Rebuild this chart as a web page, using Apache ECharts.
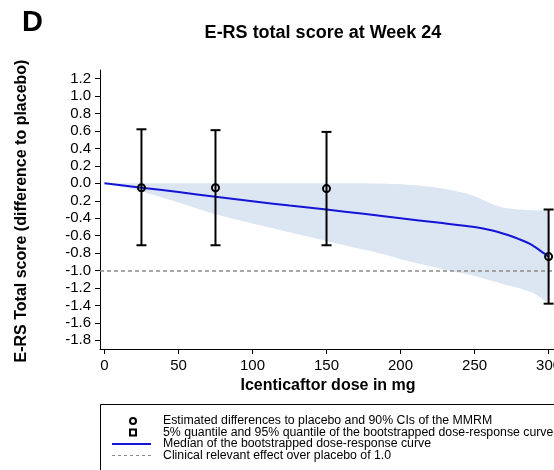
<!DOCTYPE html>
<html>
<head>
<meta charset="utf-8">
<script src="https://cdn.jsdelivr.net/npm/echarts@6/dist/echarts.min.js"></script>
<style>
  html, body { margin: 0; padding: 0; background: #fff; }
  #chart { width: 554px; height: 470px; }
</style>
</head>
<body>
<div id="chart"></div>
<script>
// MMRM estimates (difference to placebo) with 90% CIs
var doses = [25, 75, 150, 300];
var estimates = [-0.05, -0.05, -0.06, -0.84];
var ciLower = [-0.71, -0.71, -0.71, -1.38];
var ciUpper = [0.62, 0.61, 0.59, -0.30];

// Bootstrapped dose-response curve: median and 5%/95% quantiles
var curveDose = [0, 25, 50, 75, 100, 125, 150, 175, 200, 225, 250, 262, 272, 280, 288, 295, 300];
var curveMedian = [0, -0.05, -0.10, -0.155, -0.205, -0.255, -0.30, -0.35, -0.40, -0.45, -0.50, -0.54, -0.59, -0.64, -0.70, -0.78, -0.84];

var bandDose = [0, 25, 50, 75, 100, 125, 150, 175, 190, 200, 215, 225, 235, 245, 252, 258, 264, 270, 280, 290, 300];
var bandUpper = [0, 0, 0, 0, 0, 0, 0, 0, -0.005, -0.01, -0.03, -0.05, -0.08, -0.12, -0.16, -0.21, -0.25, -0.28, -0.30, -0.31, -0.32];
var bandLower = [0, -0.09, -0.22, -0.355, -0.46, -0.56, -0.66, -0.76, -0.82, -0.87, -0.93, -0.97, -1.01, -1.04, -1.07, -1.10, -1.13, -1.16, -1.20, -1.26, -1.36];

var clinicalThreshold = -1.0;

// Axis ticks
var xTickValues = [0, 50, 100, 150, 200, 250, 300];
var yTickValues = [1.2, 1.0, 0.8, 0.6, 0.4, 0.2, 0.0, -0.2, -0.4, -0.6, -0.8, -1.0, -1.2, -1.4, -1.6, -1.8];
var yTickLabels = ['1.2', '1.0', '0.8', '0.6', '0.4', '0.2', '0.0', '0.2', '-0.4', '-0.6', '-0.8', '-1.0', '-1.2', '-1.4', '-1.6', '-1.8'];

var legendLabels = [
  'Estimated differences to placebo and 90% CIs of the MMRM',
  '5% quantile and 95% quantile of the bootstrapped dose-response curve',
  'Median of the bootstrapped dose-response curve',
  'Clinical relevant effect over placebo of 1.0'
];

var FONT = '"Liberation Sans", Arial, Helvetica, sans-serif';
var LINE_BLUE = '#1414d6';
var BAND_BLUE = '#dce5f2';

var chart = echarts.init(document.getElementById('chart'), null, { renderer: 'canvas' });

function yLabel(v) {
  for (var i = 0; i < yTickValues.length; i++) {
    if (Math.abs(yTickValues[i] - v) < 1e-6) return yTickLabels[i];
  }
  return '';
}

var legendTop = 404.5;
var legendRows = [421, 432.5, 444, 455.5];
var legendFont = 12.3;

var option = {
  backgroundColor: '#fff',
  animation: false,
  grid: { left: 100, top: 70, width: 456, height: 279, containLabel: false, outerBoundsMode: 'none' },
  xAxis: {
    type: 'value',
    min: -3,
    max: 305,
    name: 'Icenticaftor dose in mg',
    nameLocation: 'middle',
    nameGap: 26,
    nameTextStyle: { fontFamily: FONT, fontWeight: 'bold', fontSize: 16, color: '#000' },
    axisLine: { show: true, onZero: false, lineStyle: { color: '#000', width: 1 } },
    axisTick: { show: true, length: 5, customValues: xTickValues, lineStyle: { color: '#000' } },
    axisLabel: { customValues: xTickValues, margin: 9, fontFamily: FONT, fontSize: 15, color: '#000', hideOverlap: false },
    splitLine: { show: false }
  },
  yAxis: {
    type: 'value',
    min: -1.9,
    max: 1.3,
    axisLine: { show: true, onZero: false, lineStyle: { color: '#000', width: 1 } },
    axisTick: { show: true, length: 5, customValues: yTickValues, lineStyle: { color: '#000' } },
    axisLabel: {
      customValues: yTickValues, margin: 9, fontFamily: FONT, fontSize: 15, color: '#000',
      formatter: yLabel
    },
    splitLine: { show: false }
  },
  graphic: [
    { type: 'text', left: 22, top: 8, style: { text: 'D', fontFamily: FONT, fontWeight: 'bold', fontSize: 29, fill: '#000' } },
    { type: 'text', x: 323, y: 33, style: { text: 'E-RS total score at Week 24', fontFamily: FONT, fontWeight: 'bold', fontSize: 18, fill: '#000', textAlign: 'center', textVerticalAlign: 'middle' } },
    { type: 'text', x: 22, y: 211, rotation: Math.PI / 2, style: { text: 'E-RS Total score (difference to placebo)', fontFamily: FONT, fontWeight: 'bold', fontSize: 16, fill: '#000', textAlign: 'center', textVerticalAlign: 'middle' } },
    // legend box
    { type: 'rect', shape: { x: 100.5, y: legendTop, width: 500, height: 100 }, style: { fill: 'none', stroke: '#000', lineWidth: 1 } },
    { type: 'circle', shape: { cx: 133, cy: legendRows[0], r: 3 }, style: { fill: 'none', stroke: '#000', lineWidth: 2 } },
    { type: 'rect', shape: { x: 130, y: legendRows[1] - 3, width: 6, height: 6 }, style: { fill: 'none', stroke: '#000', lineWidth: 2 } },
    { type: 'line', shape: { x1: 112, y1: legendRows[2], x2: 151, y2: legendRows[2] }, style: { stroke: LINE_BLUE, lineWidth: 2 } },
    { type: 'line', shape: { x1: 112, y1: legendRows[3], x2: 151, y2: legendRows[3] }, style: { stroke: '#8a8a8a', lineWidth: 1, lineDash: [3, 3] } },
    { type: 'text', x: 163, y: legendRows[0], style: { text: legendLabels[0], fontFamily: FONT, fontSize: legendFont, fill: '#000', textVerticalAlign: 'middle' } },
    { type: 'text', x: 163, y: legendRows[1], style: { text: legendLabels[1], fontFamily: FONT, fontSize: legendFont, fill: '#000', textVerticalAlign: 'middle' } },
    { type: 'text', x: 163, y: legendRows[2], style: { text: legendLabels[2], fontFamily: FONT, fontSize: legendFont, fill: '#000', textVerticalAlign: 'middle' } },
    { type: 'text', x: 163, y: legendRows[3], style: { text: legendLabels[3], fontFamily: FONT, fontSize: legendFont, fill: '#000', textVerticalAlign: 'middle' } }
  ],
  series: [
    {
      // 5%–95% quantile band of the bootstrapped curve
      type: 'custom',
      name: 'band',
      silent: true,
      z: 1,
      data: bandDose.map(function (d, i) { return [d, bandLower[i], bandUpper[i]]; }),
      renderItem: function (params, api) {
        if (params.dataIndex !== 0) return;
        var pts = [];
        for (var i = 0; i < bandDose.length; i++) pts.push(api.coord([bandDose[i], bandUpper[i]]));
        for (var j = bandDose.length - 1; j >= 0; j--) pts.push(api.coord([bandDose[j], bandLower[j]]));
        return {
          type: 'polygon',
          shape: { points: pts, smooth: 0.15 },
          style: { fill: BAND_BLUE, stroke: null }
        };
      }
    },
    {
      type: 'line',
      name: 'median',
      z: 3,
      data: curveDose.map(function (d, i) { return [d, curveMedian[i]]; }),
      smooth: 0.3,
      showSymbol: false,
      lineStyle: { color: LINE_BLUE, width: 2 },
      markLine: {
        silent: true,
        symbol: 'none',
        label: { show: false },
        lineStyle: { color: '#8a8a8a', type: [4, 3], width: 1.5 },
        data: [{ yAxis: clinicalThreshold }]
      }
    },
    {
      // MMRM point estimates with 90% CIs
      type: 'custom',
      name: 'mmrm',
      z: 5,
      data: doses.map(function (d, i) { return [d, estimates[i], ciLower[i], ciUpper[i]]; }),
      renderItem: function (params, api) {
        var x = api.value(0);
        var pMid = api.coord([x, api.value(1)]);
        var pLo = api.coord([x, api.value(2)]);
        var pHi = api.coord([x, api.value(3)]);
        var cap = 5;
        var st = { stroke: '#000', lineWidth: 2, fill: 'none' };
        return {
          type: 'group',
          children: [
            { type: 'line', shape: { x1: pLo[0], y1: pLo[1], x2: pHi[0], y2: pHi[1] }, style: st },
            { type: 'line', shape: { x1: pHi[0] - cap, y1: pHi[1], x2: pHi[0] + cap, y2: pHi[1] }, style: st },
            { type: 'line', shape: { x1: pLo[0] - cap, y1: pLo[1], x2: pLo[0] + cap, y2: pLo[1] }, style: st },
            { type: 'circle', shape: { cx: pMid[0], cy: pMid[1], r: 3.5 }, style: st }
          ]
        };
      }
    }
  ]
};

chart.setOption(option);
</script>
</body>
</html>
